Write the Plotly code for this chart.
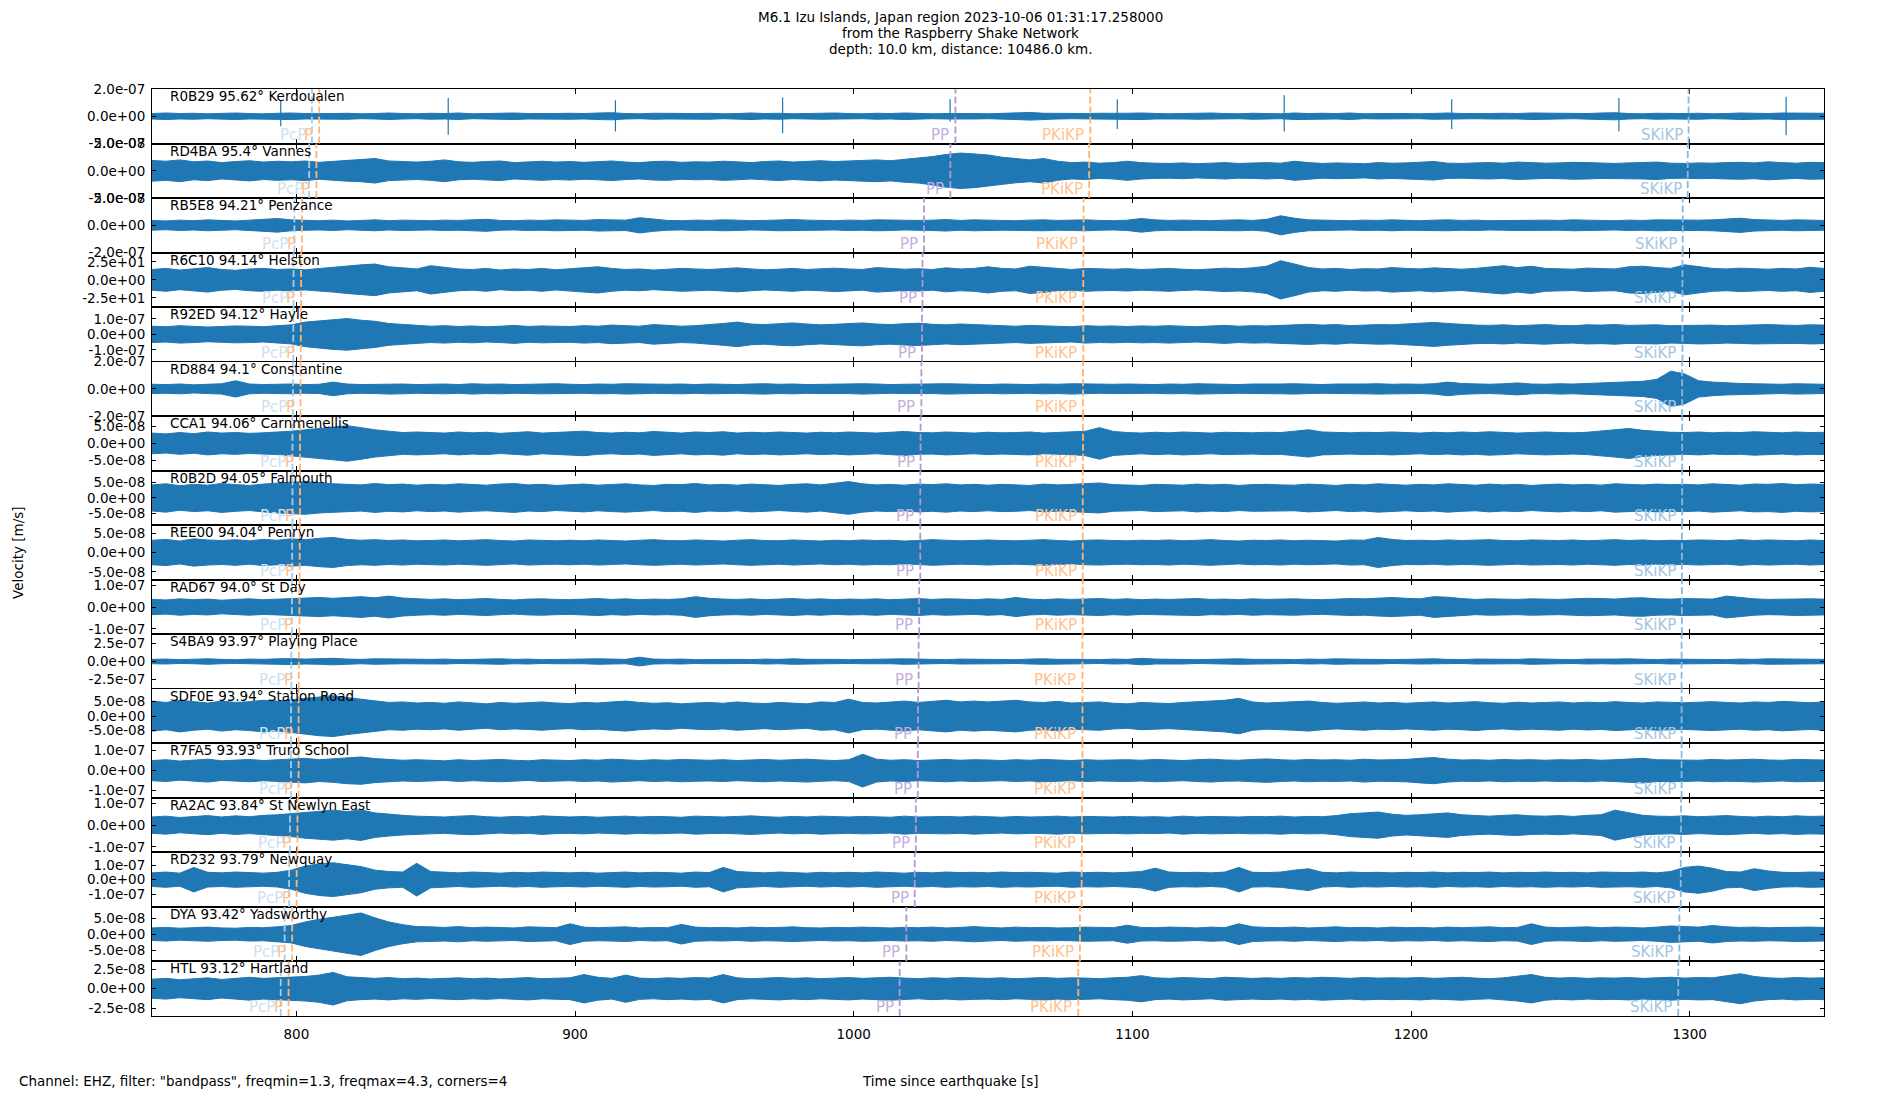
import numpy as np
import plotly.graph_objects as go
from plotly.subplots import make_subplots

# --- station metadata (top to bottom) ---
stations = ["R0B29", "RD4BA", "RB5E8", "R6C10", "R92ED", "RD884", "CCA1", "R0B2D", "REE00",
            "RAD67", "S4BA9", "SDF0E", "R7FA5", "RA2AC", "RD232", "DYA", "HTL"]
distances = [95.62, 95.4, 94.21, 94.14, 94.12, 94.1, 94.06, 94.05, 94.04,
             94.0, 93.97, 93.94, 93.93, 93.84, 93.79, 93.42, 93.12]
places = ["Kerdoualen", "Vannes", "Penzance", "Helston", "Hayle", "Constantine", "Carnmenellis",
          "Falmouth", "Penryn", "St Day", "Playing Place", "Station Road", "Truro School",
          "St Newlyn East", "Newquay", "Yadsworthy", "Hartland"]

# half-range of each panel's y axis and its labelled tick
amp_limit = [2e-7, 5e-8, 2e-7, 38.0, 1.75e-7, 2e-7, 8e-8, 8.7e-8, 7e-8,
             1.25e-7, 3.75e-7, 9.4e-8, 1.37e-7, 1.25e-7, 1.9e-7, 8.6e-8, 3.5e-8]
tick_value = [2e-7, 5e-8, 2e-7, 25.0, 1e-7, 2e-7, 5e-8, 5e-8, 5e-8,
              1e-7, 2.5e-7, 5e-8, 1e-7, 1e-7, 1e-7, 5e-8, 2.5e-8]

# predicted arrivals [s]
t_PcP = [805.6, 804.6, 799.3, 799.0, 798.9, 798.8, 798.6, 798.6, 798.5,
         798.4, 798.2, 798.1, 798.1, 797.7, 797.4, 795.8, 794.4]
t_P = [808.2, 807.2, 802.0, 801.7, 801.6, 801.5, 801.3, 801.3, 801.2,
       801.1, 800.9, 800.8, 800.8, 800.4, 800.1, 798.5, 797.2]
t_PP = [1036.5, 1034.7, 1025.2, 1024.7, 1024.5, 1024.3, 1024.0, 1023.9, 1023.9,
        1023.5, 1023.3, 1023.1, 1023.0, 1022.3, 1021.9, 1018.9, 1016.5]
t_PKiKP = [1084.9, 1084.5, 1082.5, 1082.4, 1082.4, 1082.3, 1082.3, 1082.2, 1082.2,
           1082.2, 1082.1, 1082.1, 1082.1, 1081.9, 1081.8, 1081.2, 1080.6]
t_SKiKP = [1299.6, 1299.3, 1297.5, 1297.4, 1297.4, 1297.3, 1297.3, 1297.3, 1297.2,
           1297.2, 1297.1, 1297.1, 1297.1, 1296.9, 1296.8, 1296.3, 1295.9]

# visible trace amplitude, % of panel half-range, one reading every 5 s from 748.2 s
env_R0B29 = [10, 12, 10, 11, 9, 10, 12, 10, 9, 11, 12, 10, 9, 10, 11, 9, 10, 12, 10, 9,
             11, 10, 12, 9, 10, 11, 12, 10, 9, 10, 11, 10, 12, 13, 10, 9, 11, 10, 9, 10,
             11, 9, 10, 12, 10, 11, 9, 10, 11, 12, 10, 9, 11, 10, 12, 10, 9, 10, 11, 10,
             9, 10, 12, 14, 11, 10, 9, 10, 11, 10, 11, 12, 10, 9, 10, 11, 12, 10, 9, 11,
             10, 9, 12, 10, 11, 10, 12, 9, 10, 11, 10, 9, 11, 12, 10, 9, 10, 11, 10, 12,
             11, 10, 9, 10, 12, 13, 10, 9, 11, 10, 10, 11, 9, 10, 12, 11, 10, 12, 11, 10, 11]
env_RD4BA = [38, 35, 40, 33, 36, 30, 34, 37, 32, 35, 33, 36, 31, 34, 38, 40, 45, 36, 34, 32,
             35, 40, 33, 31, 34, 36, 30, 33, 35, 32, 34, 31, 33, 36, 32, 30, 34, 35, 31, 33,
             32, 35, 33, 30, 34, 36, 32, 35, 37, 34, 36, 38, 40, 37, 42, 45, 52, 60, 65, 62,
             58, 50, 44, 40, 45, 35, 30, 32, 28, 30, 35, 30, 28, 27, 29, 26, 28, 30, 27, 28,
             30, 28, 35, 30, 27, 29, 28, 26, 30, 28, 29, 32, 34, 28, 27, 29, 30, 28, 32, 30,
             28, 29, 31, 30, 28, 27, 29, 30, 32, 28, 27, 29, 28, 30, 31, 29, 33, 30, 28, 31, 30]
env_RB5E8 = [18, 16, 19, 17, 20, 18, 16, 19, 22, 25, 20, 18, 17, 19, 16, 18, 20, 17, 19, 18,
             17, 19, 18, 20, 22, 18, 17, 19, 18, 20, 19, 18, 21, 20, 19, 28, 22, 18, 17, 19,
             18, 20, 19, 17, 18, 20, 21, 19, 18, 17, 19, 18, 20, 19, 17, 18, 19, 21, 18, 20,
             19, 18, 17, 19, 20, 18, 19, 20, 18, 17, 19, 25, 20, 18, 19, 18, 17, 19, 20, 18,
             22, 35, 26, 20, 19, 18, 17, 19, 18, 20, 18, 17, 19, 20, 18, 19, 17, 18, 19, 18,
             19, 18, 20, 19, 18, 17, 19, 18, 20, 19, 18, 19, 20, 22, 26, 21, 19, 18, 20, 19, 18]
env_R6C10 = [38, 42, 36, 40, 45, 38, 35, 40, 42, 38, 40, 37, 42, 45, 50, 55, 58, 48, 44, 40,
             52, 45, 40, 38, 42, 36, 40, 38, 42, 37, 40, 45, 48, 42, 38, 40, 36, 39, 42, 40,
             38, 41, 44, 40, 37, 39, 42, 38, 40, 43, 40, 38, 45, 42, 39, 41, 38, 44, 40, 42,
             48, 42, 40, 50, 46, 40, 38, 42, 40, 39, 41, 38, 40, 42, 39, 37, 40, 43, 41, 44,
             50, 70, 58, 45, 40, 42, 38, 41, 40, 45, 42, 40, 44, 41, 39, 42, 48, 52, 45, 50,
             42, 40, 39, 43, 41, 40, 48, 50, 45, 42, 55, 48, 42, 40, 43, 41, 39, 42, 40, 46, 42]
env_R92ED = [30, 28, 32, 30, 27, 29, 31, 30, 28, 32, 35, 45, 50, 55, 58, 52, 48, 40, 36, 33,
             30, 32, 29, 31, 28, 30, 33, 29, 31, 30, 29, 32, 30, 34, 31, 30, 36, 33, 30, 32,
             35, 40, 45, 38, 36, 40, 42, 38, 35, 37, 40, 42, 38, 36, 39, 41, 37, 35, 38, 36,
             34, 32, 30, 33, 31, 30, 28, 32, 30, 31, 29, 31, 30, 32, 30, 28, 31, 33, 30, 32,
             31, 33, 35, 37, 34, 36, 32, 34, 36, 35, 38, 42, 44, 40, 36, 34, 33, 35, 32, 34,
             36, 33, 32, 35, 34, 36, 33, 34, 35, 32, 33, 35, 34, 32, 33, 35, 36, 34, 33, 35, 34]
env_RD884 = [17, 16, 18, 15, 17, 19, 30, 18, 16, 17, 18, 16, 17, 25, 18, 16, 17, 19, 18, 16,
             17, 18, 16, 19, 17, 18, 16, 17, 18, 19, 17, 16, 18, 17, 19, 18, 16, 17, 18, 16,
             18, 17, 16, 18, 19, 17, 18, 16, 17, 18, 17, 19, 18, 16, 17, 18, 17, 19, 18, 17,
             16, 18, 17, 16, 18, 17, 19, 18, 16, 17, 18, 17, 16, 18, 17, 19, 18, 17, 16, 18,
             17, 18, 19, 17, 16, 18, 17, 18, 19, 17, 18, 17, 19, 25, 20, 18, 17, 19, 22, 18,
             17, 19, 18, 20, 22, 24, 26, 28, 35, 65, 55, 30, 25, 22, 20, 19, 18, 17, 19, 18, 17]
env_CCA1 = [38, 35, 40, 36, 42, 38, 40, 37, 39, 41, 45, 50, 55, 60, 65, 58, 50, 45, 40, 42,
            40, 38, 42, 39, 41, 37, 40, 43, 38, 40, 42, 45, 40, 38, 41, 39, 44, 40, 38, 42,
            40, 43, 38, 41, 39, 42, 40, 38, 41, 39, 42, 40, 38, 41, 44, 40, 39, 42, 40, 38,
            41, 39, 40, 42, 38, 40, 41, 45, 58, 44, 40, 38, 41, 39, 42, 40, 38, 41, 40, 39,
            41, 40, 45, 50, 42, 40, 39, 41, 40, 42, 40, 38, 41, 39, 42, 40, 43, 41, 38, 40,
            42, 40, 39, 41, 45, 50, 55, 48, 44, 41, 40, 42, 39, 41, 40, 43, 41, 39, 42, 40, 41]
env_R0B2D = [48, 52, 45, 50, 47, 53, 49, 46, 51, 55, 58, 60, 55, 52, 50, 48, 53, 49, 51, 47,
             50, 48, 52, 49, 47, 51, 53, 48, 50, 46, 49, 51, 47, 50, 52, 48, 46, 50, 49, 53,
             48, 50, 47, 51, 49, 46, 50, 52, 48, 55, 60, 52, 48, 50, 47, 51, 49, 52, 48, 50,
             47, 50, 49, 46, 51, 48, 50, 52, 55, 49, 48, 46, 50, 49, 47, 51, 48, 50, 46, 49,
             50, 48, 47, 51, 49, 46, 50, 48, 52, 49, 47, 50, 48, 52, 49, 47, 51, 48, 50, 46,
             49, 51, 48, 50, 47, 52, 50, 48, 51, 49, 50, 48, 52, 49, 47, 51, 50, 53, 49, 51, 50]
env_REE00 = [45, 48, 42, 50, 46, 44, 47, 43, 48, 45, 50, 47, 52, 55, 48, 45, 47, 44, 46, 43,
             44, 46, 43, 45, 47, 44, 42, 46, 45, 43, 45, 43, 46, 44, 42, 45, 47, 44, 43, 46,
             44, 42, 45, 47, 44, 43, 46, 44, 42, 45, 43, 46, 44, 45, 42, 44, 47, 45, 43, 44,
             46, 44, 43, 45, 47, 44, 42, 45, 46, 44, 43, 45, 44, 46, 43, 45, 47, 44, 42, 45,
             44, 46, 43, 45, 44, 42, 46, 45, 55, 48, 44, 45, 43, 46, 44, 45, 47, 44, 43, 46,
             45, 44, 46, 43, 45, 47, 44, 46, 43, 45, 44, 46, 45, 43, 47, 44, 46, 45, 43, 46, 44]
env_RAD67 = [28, 26, 30, 27, 29, 25, 28, 30, 27, 29, 31, 33, 35, 32, 36, 38, 34, 40, 33, 30,
             28, 30, 27, 29, 31, 28, 26, 29, 30, 28, 27, 29, 31, 28, 30, 27, 29, 28, 30, 38,
             32, 29, 28, 30, 27, 29, 31, 28, 30, 27, 29, 28, 30, 27, 29, 31, 28, 30, 29, 27,
             30, 28, 35, 29, 27, 30, 28, 29, 31, 28, 30, 27, 29, 28, 30, 31, 28, 29, 27, 30,
             28, 29, 30, 28, 27, 29, 31, 30, 33, 35, 32, 30, 38, 36, 31, 28, 30, 29, 28, 30,
             29, 28, 30, 32, 31, 29, 33, 34, 30, 29, 31, 30, 29, 40, 34, 30, 28, 29, 31, 30, 29]
env_S4BA9 = [8, 9, 7, 8, 10, 8, 7, 9, 8, 10, 11, 9, 10, 12, 9, 8, 10, 9, 8, 9,
             8, 9, 7, 8, 9, 10, 8, 9, 7, 8, 9, 8, 10, 9, 8, 16, 9, 8, 9, 7,
             8, 9, 8, 7, 9, 8, 10, 8, 9, 8, 7, 8, 9, 8, 10, 9, 8, 7, 9, 8,
             9, 8, 7, 9, 10, 8, 9, 8, 7, 9, 8, 12, 9, 8, 9, 7, 8, 9, 10, 8,
             9, 8, 7, 9, 8, 10, 9, 8, 9, 7, 8, 9, 10, 8, 7, 9, 8, 9, 8, 10,
             9, 8, 7, 9, 8, 9, 10, 8, 7, 9, 8, 9, 8, 7, 9, 8, 10, 9, 8, 9, 8]
env_SDF0E = [55, 50, 58, 52, 48, 55, 50, 53, 58, 55, 60, 65, 72, 75, 68, 62, 55, 50, 52, 48,
             50, 47, 52, 48, 45, 50, 47, 49, 52, 48, 46, 50, 48, 52, 55, 50, 47, 49, 45, 48,
             50, 47, 52, 48, 46, 50, 48, 45, 52, 50, 62, 50, 48, 52, 55, 50, 53, 58, 52, 55,
             52, 55, 58, 52, 50, 54, 48, 50, 52, 47, 45, 50, 48, 46, 50, 52, 55, 58, 65, 52,
             48, 50, 52, 55, 50, 47, 49, 52, 48, 50, 47, 50, 52, 48, 50, 53, 49, 47, 51, 48,
             50, 52, 48, 51, 49, 53, 50, 48, 52, 50, 49, 51, 53, 50, 48, 52, 50, 54, 51, 49, 52]
env_R7FA5 = [37, 40, 35, 38, 42, 36, 39, 41, 37, 40, 42, 45, 40, 43, 48, 50, 44, 41, 38, 40,
             38, 36, 40, 37, 39, 41, 38, 36, 40, 38, 37, 40, 38, 42, 39, 37, 40, 38, 41, 39,
             38, 40, 37, 39, 41, 38, 40, 42, 39, 37, 40, 60, 42, 38, 40, 37, 39, 41, 38, 40,
             39, 37, 40, 38, 41, 39, 37, 40, 38, 39, 40, 38, 41, 39, 37, 40, 42, 39, 38, 41,
             43, 40, 38, 41, 39, 40, 38, 42, 39, 40, 41, 45, 48, 42, 39, 40, 38, 41, 39, 40,
             38, 40, 39, 41, 38, 40, 42, 45, 40, 39, 40, 38, 41, 39, 40, 42, 39, 38, 41, 40, 39]
env_RA2AC = [30, 33, 28, 32, 35, 30, 34, 31, 36, 38, 42, 48, 52, 55, 50, 56, 45, 40, 36, 33,
             32, 30, 33, 35, 31, 29, 32, 30, 34, 31, 30, 32, 29, 31, 33, 30, 32, 31, 29, 33,
             31, 30, 32, 34, 31, 29, 32, 30, 33, 31, 30, 32, 31, 29, 33, 30, 31, 32, 30, 33,
             31, 29, 32, 30, 31, 33, 30, 32, 31, 30, 32, 30, 31, 29, 33, 30, 32, 31, 30, 32,
             31, 33, 30, 32, 31, 35, 42, 45, 48, 40, 36, 38, 42, 45, 38, 35, 33, 36, 38, 34,
             33, 35, 32, 36, 38, 55, 45, 36, 33, 32, 34, 31, 33, 35, 32, 30, 33, 31, 34, 32, 33]
env_RD232 = [25, 28, 24, 45, 27, 25, 28, 26, 24, 27, 35, 50, 58, 62, 55, 48, 35, 30, 28, 60,
             30, 27, 25, 28, 26, 24, 27, 25, 28, 26, 25, 27, 24, 26, 28, 25, 27, 26, 24, 28,
             26, 45, 30, 27, 25, 28, 26, 24, 27, 25, 27, 25, 28, 26, 24, 27, 25, 28, 26, 27,
             25, 28, 26, 27, 25, 24, 28, 26, 27, 25, 27, 30, 42, 28, 26, 27, 25, 28, 45, 27,
             26, 28, 35, 40, 27, 25, 28, 26, 27, 25, 27, 26, 28, 25, 27, 26, 28, 25, 27, 26,
             28, 26, 27, 25, 28, 27, 26, 28, 25, 30, 45, 50, 42, 30, 28, 40, 32, 27, 26, 28, 27]
env_DYA = [23, 25, 22, 24, 26, 23, 22, 25, 24, 27, 32, 45, 55, 62, 70, 78, 60, 45, 35, 28,
           27, 25, 28, 24, 26, 25, 23, 27, 25, 24, 38, 26, 24, 25, 27, 23, 25, 24, 36, 26,
           24, 25, 23, 26, 24, 25, 27, 24, 23, 25, 24, 26, 25, 23, 25, 24, 26, 23, 25, 28,
           25, 23, 26, 24, 25, 23, 24, 26, 25, 24, 33, 25, 24, 26, 25, 23, 26, 24, 38, 27,
           25, 24, 26, 23, 25, 27, 24, 25, 23, 26, 24, 25, 23, 26, 24, 25, 27, 24, 25, 38,
           26, 24, 25, 27, 24, 26, 25, 23, 26, 30, 28, 26, 32, 27, 25, 26, 24, 25, 27, 26, 25]
env_HTL = [35, 38, 33, 36, 40, 34, 37, 42, 38, 40, 42, 45, 50, 60, 44, 40, 38, 41, 37, 39,
           36, 38, 40, 37, 39, 36, 38, 41, 37, 39, 40, 52, 42, 38, 50, 39, 37, 40, 38, 41,
           39, 52, 40, 37, 39, 41, 38, 40, 37, 39, 41, 38, 40, 42, 39, 37, 40, 38, 41, 39,
           38, 40, 37, 39, 41, 38, 40, 39, 37, 40, 42, 48, 40, 38, 41, 39, 37, 42, 40, 38,
           40, 38, 41, 39, 42, 40, 38, 41, 39, 40, 39, 41, 38, 40, 42, 39, 37, 40, 45, 52,
           42, 39, 41, 38, 40, 39, 41, 38, 40, 42, 39, 41, 40, 48, 55, 45, 40, 38, 41, 39, 40]

envelopes = [env_R0B29, env_RD4BA, env_RB5E8, env_R6C10, env_R92ED, env_RD884, env_CCA1,
             env_R0B2D, env_REE00, env_RAD67, env_S4BA9, env_SDF0E, env_R7FA5, env_RA2AC,
             env_RD232, env_DYA, env_HTL]

# the periodic glitches on R0B29 (% of half-range, up and down)
spike_t = [794.4, 854.5, 914.5, 974.5, 1034.6, 1094.6, 1154.5, 1214.6, 1274.6, 1334.6]
spike_up = [56, 67, 59, 69, 62, 62, 77, 62, 67, 72]
spike_down = [37, 68, 56, 62, 19, 47, 56, 47, 56, 70]

x_ticks = [800, 900, 1000, 1100, 1200, 1300]
t_start, t_end = 748.2, 1348.2
t_env = t_start + 5.0 * np.arange(len(env_R0B29))

phases = [
    ("PcP", t_PcP, "#a9cbe6", "#cde1f1"),
    ("P", t_P, "#ffb47a", "#ffbf8c"),
    ("PP", t_PP, "#b397d3", "#c4aedd"),
    ("PKiKP", t_PKiKP, "#ffb370", "#ffc28e"),
    ("SKiKP", t_SKiKP, "#8ab8dc", "#a3c6e3"),
]

BLUE = "#1f77b4"
FONT = "DejaVu Sans"
n = len(stations)

fig = make_subplots(rows=n, cols=1, shared_xaxes=True, vertical_spacing=0)

for i in range(n):
    row = i + 1
    L = amp_limit[i]
    a = np.array(envelopes[i], dtype=float) / 100.0 * L

    fig.add_trace(go.Scatter(
        x=np.concatenate([t_env, t_env[::-1]]),
        y=np.concatenate([a, -a[::-1]]),
        mode="lines", fill="toself", fillcolor=BLUE,
        line=dict(color=BLUE, width=1),
        hoverinfo="skip", showlegend=False), row=row, col=1)

    if i == 0:
        sx, sy = [], []
        for t, u, d in zip(spike_t, spike_up, spike_down):
            sx += [t, t, None]
            sy += [u / 100.0 * L, -d / 100.0 * L, None]
        fig.add_trace(go.Scatter(x=sx, y=sy, mode="lines",
                                 line=dict(color=BLUE, width=1.2),
                                 hoverinfo="skip", showlegend=False), row=row, col=1)

    xr = "x" if row == 1 else f"x{row}"
    yr = "y" if row == 1 else f"y{row}"

    T = tick_value[i]
    fig.update_yaxes(range=[-L, L], tickvals=[T, 0, -T],
                     ticktext=[f"{T:.1e}", f"{0:.1e}", f"{-T:.1e}"],
                     row=row, col=1)

    for name, times, lcol, tcol in phases:
        fig.add_vline(x=times[i], line=dict(color=lcol, width=1.8, dash="7px,3px"),
                      row=row, col=1)
        fig.add_annotation(x=times[i], y=0, xref=xr, yref=f"{yr} domain",
                           text=name, showarrow=False, xanchor="right", yanchor="bottom",
                           xshift=-4, yshift=-2, font=dict(size=15, color=tcol, family=FONT))

    fig.add_annotation(x=0.0095, y=1, xref=f"{xr} domain", yref=f"{yr} domain",
                       text=f"{stations[i]} {distances[i]}° {places[i]}", showarrow=False,
                       xanchor="left", yanchor="top", yshift=3,
                       font=dict(size=13.5, color="black", family=FONT))

fig.update_xaxes(range=[t_start, t_end], tickvals=x_ticks, ticks="inside", ticklen=5,
                 tickcolor="black", showline=True, linecolor="black", linewidth=1,
                 mirror="ticks", showgrid=False, zeroline=False, ticklabelstandoff=6)
fig.update_yaxes(ticks="inside", ticklen=4, tickcolor="black", showline=True,
                 linecolor="black", linewidth=1, mirror="ticks", showgrid=False,
                 zeroline=False, ticklabelstandoff=3)

# page body adds an 8 px offset; plot area lands at 152..1824 x 89..1016 px of the window
def py(px):
    return (1016 - px) / 927.0

def pxx(px):
    return (px - 152) / 1672.0

title_lines = ["M6.1 Izu Islands, Japan region 2023-10-06 01:31:17.258000",
               "from the Raspberry Shake Network",
               "depth: 10.0 km, distance: 10486.0 km."]
for k, line in enumerate(title_lines):
    fig.add_annotation(x=pxx(960), y=py(17 + 16 * k), xref="paper", yref="paper",
                       text=line, showarrow=False, xanchor="center", yanchor="middle",
                       font=dict(size=13.5, color="black", family=FONT))

fig.add_annotation(x=pxx(18), y=py(553), xref="paper", yref="paper", text="Velocity [m/s]",
                   textangle=-90, showarrow=False, xanchor="center", yanchor="middle",
                   font=dict(size=13.5, color="black", family=FONT))
fig.add_annotation(x=pxx(17), y=py(1081), xref="paper", yref="paper",
                   text='Channel: EHZ, filter: "bandpass", freqmin=1.3, freqmax=4.3, corners=4',
                   showarrow=False, xanchor="left", yanchor="middle",
                   font=dict(size=13.5, color="black", family=FONT))
fig.add_annotation(x=pxx(950), y=py(1081), xref="paper", yref="paper",
                   text="Time since earthquake [s]", showarrow=False,
                   xanchor="center", yanchor="middle",
                   font=dict(size=13.5, color="black", family=FONT))

fig.update_layout(
    width=1892, height=1092,
    margin=dict(l=144, r=76, t=81, b=84),
    plot_bgcolor="white", paper_bgcolor="white",
    font=dict(family=FONT, size=13.5, color="black"),
    showlegend=False,
)

fig.write_html("out.html")
